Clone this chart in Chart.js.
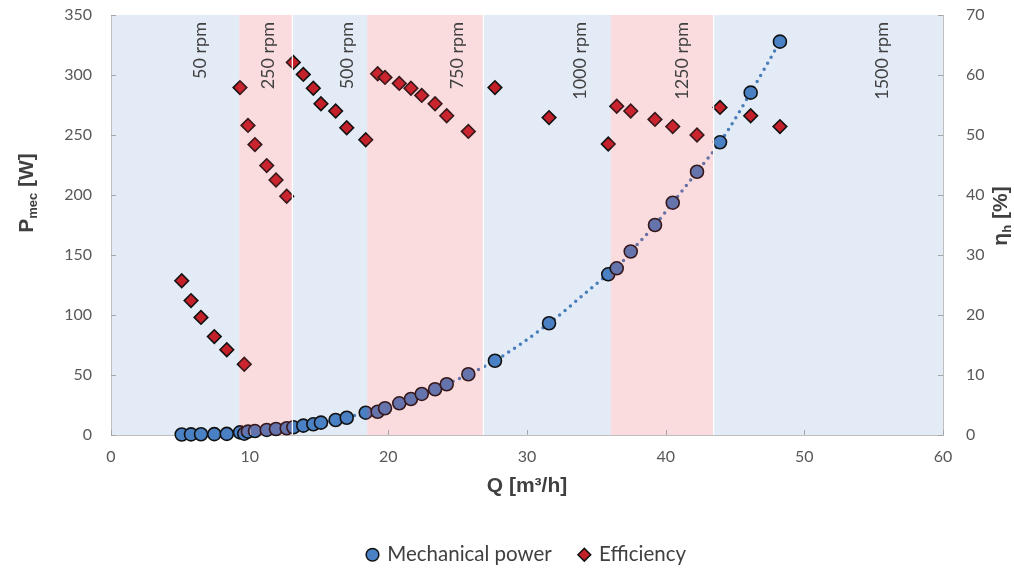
<!DOCTYPE html>
<html>
<head>
<meta charset="utf-8">
<script src="https://cdn.jsdelivr.net/npm/chart.js@4.4.1/dist/chart.umd.min.js"></script>
<style>
html,body{margin:0;padding:0;background:#fff;}
#wrap{width:1014px;height:570px;position:relative;}
</style>
</head>
<body>
<div id="wrap"><canvas id="c" width="1014" height="570"></canvas></div>
<script>
// ---- data ----
const flowRate = [
  5.10, 5.77, 6.49, 7.45, 8.35, 9.61,
  9.30, 9.88, 10.38, 11.23, 11.90, 12.67,
  13.15, 13.87, 14.59, 15.14, 16.20, 17.00, 18.37,
  19.23, 19.76, 20.79, 21.63, 22.41, 23.37, 24.21, 25.77,
  27.69, 31.59, 35.86,
  36.47, 37.48, 39.23, 40.51, 42.26,
  43.92, 46.13, 48.24
];
const mechPower = [
  0.4, 0.5, 0.6, 0.7, 0.9, 1.1,
  2.2, 2.8, 3.3, 4.2, 5.0, 5.6,
  6.4, 7.8, 8.9, 10.3, 12.5, 14.4, 18.6,
  19.4, 22.3, 26.4, 30.0, 34.2, 38.1, 42.3, 50.6,
  61.9, 93.1, 133.9,
  138.9, 152.9, 175.0, 193.6, 219.4,
  243.9, 285.3, 327.8
];
const efficiency = [
  25.7, 22.4, 19.6, 16.4, 14.2, 11.8,
  57.9, 51.6, 48.4, 44.9, 42.5, 39.8,
  62.1, 60.1, 57.8, 55.2, 54.0, 51.2, 49.2,
  60.2, 59.6, 58.6, 57.8, 56.6, 55.2, 53.2, 50.6,
  57.9, 52.9, 48.5,
  54.8, 54.0, 52.6, 51.4, 50.0,
  54.6, 53.2, 51.4
];
const speedLabels = ['50 rpm', '250 rpm', '500 rpm', '750 rpm', '1000 rpm', '1250 rpm', '1500 rpm'];
const speedBandEdges = [0, 9.25, 13.07, 18.48, 26.85, 36.05, 43.45, 60];
const speedLabelQ = [6.4, 11.3, 17.0, 25.0, 33.8, 41.2, 55.6];
const xTickValues = [0, 10, 20, 30, 40, 50, 60];
const powerTickValues = [0, 50, 100, 150, 200, 250, 300, 350];
const effTickValues = [0, 10, 20, 30, 40, 50, 60, 70];
const seriesNames = ['Mechanical power', 'Efficiency'];

// ---- styles ----
const FONT = 'Lato, "Open Sans", sans-serif';
const TITLE_FONT = '"Liberation Sans", Arial, sans-serif';
const TICK_COLOR = '#595959';
const TITLE_COLOR = '#404040';
const AXIS_COLOR = '#bfbfbf';
const BLUE_BAND = '#e3ebf6';
const PINK_OVER = 'rgba(233,61,72,0.18)';

const powerPoints = flowRate.map((q, i) => ({x: q, y: mechPower[i]})).sort((a, b) => a.x - b.x);
const effPoints = flowRate.map((q, i) => ({x: q, y: efficiency[i]}));

const bandPlugin = {
  id: 'bands',
  beforeDraw(chart) {
    const {ctx, chartArea: a, scales: {x}} = chart;
    ctx.save();
    ctx.fillStyle = '#fff';
    ctx.fillRect(0, 0, chart.width, chart.height);
    for (let i = 0; i < speedLabels.length; i += 2) {
      const x0 = x.getPixelForValue(speedBandEdges[i]);
      const x1 = x.getPixelForValue(speedBandEdges[i + 1]);
      ctx.fillStyle = BLUE_BAND;
      ctx.fillRect(x0, a.top, x1 - x0, a.bottom - a.top);
    }
    ctx.restore();
  },
  afterDatasetsDraw(chart) {
    const {ctx, chartArea: a, scales: {x}} = chart;
    ctx.save();
    for (let i = 1; i < speedLabels.length; i += 2) {
      const x0 = x.getPixelForValue(speedBandEdges[i]);
      const x1 = x.getPixelForValue(speedBandEdges[i + 1]);
      ctx.fillStyle = PINK_OVER;
      ctx.fillRect(x0, a.top, x1 - x0, a.bottom - a.top);
      ctx.fillStyle = '#ffffff';
      ctx.fillRect(x1 - 0.5, a.top, 1.2, a.bottom - a.top);
    }
    // speed labels
    ctx.fillStyle = TITLE_COLOR;
    ctx.font = '18px ' + FONT;
    ctx.textAlign = 'right';
    ctx.textBaseline = 'middle';
    for (let i = 0; i < speedLabels.length; i++) {
      const px = x.getPixelForValue(speedLabelQ[i]);
      ctx.save();
      ctx.translate(px, a.top + 7);
      ctx.rotate(-Math.PI / 2);
      ctx.fillText(speedLabels[i], 0, 0);
      ctx.restore();
    }
    ctx.restore();
  },
  afterDraw(chart) {
    const {ctx, chartArea: a, scales: {x, y, y2}} = chart;
    ctx.save();
    ctx.strokeStyle = '#a6a6a6';
    ctx.lineWidth = 1;
    ctx.beginPath();
    xTickValues.forEach(v => {
      const px = Math.round(x.getPixelForValue(v)) + 0.5;
      ctx.moveTo(px, a.bottom); ctx.lineTo(px, a.bottom - 5);
    });
    powerTickValues.forEach(v => {
      const py = Math.round(y.getPixelForValue(v)) + 0.5;
      ctx.moveTo(a.left, py); ctx.lineTo(a.left + 5, py);
    });
    effTickValues.forEach(v => {
      const py = Math.round(y2.getPixelForValue(v)) + 0.5;
      ctx.moveTo(a.right, py); ctx.lineTo(a.right - 5, py);
    });
    ctx.stroke();

    // rotated axis titles with subscripts
    const drawTitle = (bx, cy, parts) => {
      ctx.save();
      ctx.translate(bx, cy);
      ctx.rotate(-Math.PI / 2);
      ctx.fillStyle = TITLE_COLOR;
      ctx.textAlign = 'left';
      ctx.textBaseline = 'alphabetic';
      let w = 0;
      parts.forEach(p => { ctx.font = p.font; p.w = ctx.measureText(p.t).width; w += p.w; });
      let u = -w / 2;
      parts.forEach(p => { ctx.font = p.font; ctx.fillText(p.t, u, p.dy); u += p.w; });
      ctx.restore();
    };
    const big = 'bold 21px ' + TITLE_FONT;
    const small = 'bold 13px ' + TITLE_FONT;
    drawTitle(33, 193, [
      {t: 'P', font: big, dy: 0},
      {t: 'mec', font: small, dy: 4},
      {t: ' [W]', font: big, dy: 0}
    ]);
    drawTitle(1007, 216, [
      {t: 'η', font: big, dy: 0},
      {t: 'h', font: small, dy: 4},
      {t: ' [%]', font: big, dy: 0}
    ]);
    ctx.restore();
  }
};

const hiddenTicks = len => ({display: true, drawOnChartArea: false, drawTicks: true, tickLength: len, tickColor: 'rgba(0,0,0,0)'});

new Chart(document.getElementById('c'), {
  type: 'scatter',
  data: {
    datasets: [
      {
        label: seriesNames[0],
        data: powerPoints,
        yAxisID: 'y',
        showLine: true,
        cubicInterpolationMode: 'monotone',
        borderColor: '#4a7ebb',
        borderWidth: 3.5,
        borderDash: [0, 7],
        borderCapStyle: 'round',
        pointStyle: 'circle',
        pointRadius: 6.5,
        pointBackgroundColor: '#4a80c4',
        pointBorderColor: '#111111',
        pointBorderWidth: 1.6,
        clip: false
      },
      {
        label: seriesNames[1],
        data: effPoints,
        yAxisID: 'y2',
        showLine: false,
        pointStyle: 'rectRot',
        pointRadius: 6.8,
        pointBackgroundColor: '#c4202a',
        pointBorderColor: '#111111',
        pointBorderWidth: 1.6,
        clip: false
      }
    ]
  },
  options: {
    responsive: false,
    animation: false,
    devicePixelRatio: 1,
    layout: {padding: {top: 15, left: 0, right: 0, bottom: 0}},
    plugins: {
      tooltip: {enabled: false},
      legend: {
        position: 'bottom',
        fullSize: false,
        maxHeight: 53.5,
        labels: {
          usePointStyle: true,
          boxWidth: 9,
          boxHeight: 9,
          padding: 28,
          color: TITLE_COLOR,
          font: {family: FONT, size: 20.5},
          generateLabels(chart) {
            return chart.data.datasets.map((ds, i) => ({
              text: ds.label,
              fillStyle: ds.pointBackgroundColor,
              strokeStyle: ds.pointBorderColor,
              lineWidth: 1.5,
              lineDash: [],
              pointStyle: ds.pointStyle,
              hidden: false,
              datasetIndex: i,
              fontColor: TITLE_COLOR
            }));
          }
        }
      }
    },
    scales: {
      x: {
        type: 'linear',
        min: 0, max: 60,
        afterBuildTicks: s => { s.ticks = xTickValues.map(v => ({value: v})); },
        afterFit: s => { s.height = 81.5; },
        grid: hiddenTicks(12),
        border: {display: true, color: AXIS_COLOR, width: 1},
        ticks: {color: TICK_COLOR, font: {family: FONT, size: 16}, padding: 0, maxRotation: 0},
        title: {display: true, text: 'Q [m³/h]', color: TITLE_COLOR,
                font: {family: TITLE_FONT, size: 21, weight: 'bold'},
                padding: {top: 0, bottom: 17.5}}
      },
      y: {
        type: 'linear',
        position: 'left',
        min: 0, max: 350,
        afterBuildTicks: s => { s.ticks = powerTickValues.map(v => ({value: v})); },
        afterFit: s => { s.width = 111; },
        grid: hiddenTicks(19),
        border: {display: true, color: AXIS_COLOR, width: 1},
        ticks: {color: TICK_COLOR, font: {family: FONT, size: 16}, padding: 0}
      },
      y2: {
        type: 'linear',
        position: 'right',
        min: 0, max: 70,
        afterBuildTicks: s => { s.ticks = effTickValues.map(v => ({value: v})); },
        afterFit: s => { s.width = 71; },
        grid: hiddenTicks(23),
        border: {display: true, color: AXIS_COLOR, width: 1},
        ticks: {color: TICK_COLOR, font: {family: FONT, size: 16}, padding: 0}
      }
    }
  },
  plugins: [bandPlugin]
});
</script>
</body>
</html>
